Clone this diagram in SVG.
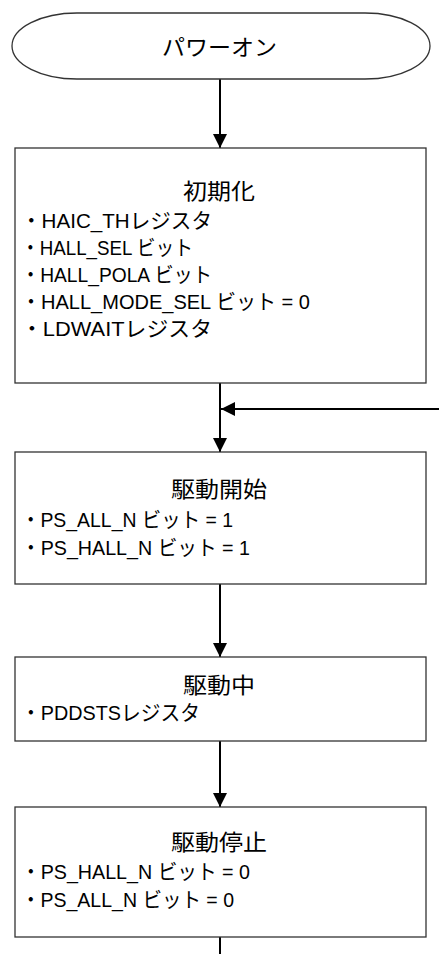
<svg xmlns="http://www.w3.org/2000/svg" width="439" height="954" viewBox="0 0 439 954">
<style>
.shape{fill:#ffffff;stroke:#333333;stroke-width:1.3}
.conn{fill:none;stroke:#000000;stroke-width:2}
text{font-family:'Liberation Sans','Noto Sans CJK JP',sans-serif;font-size:21px;fill:#000000}
.title{text-anchor:middle;font-size:22px}
</style>
<defs>
<marker id="arrow" viewBox="0 0 14 14" refX="14" refY="7" markerWidth="14" markerHeight="14" markerUnits="userSpaceOnUse" orient="auto">
<path d="M0,0 L14,7 L0,14 z" fill="#000000"/>
</marker>
</defs>
<rect width="439" height="954" fill="#ffffff"/>
<g id="connectors">
<path class="conn" d="M220 79 V148" marker-end="url(#arrow)"/>
<path class="conn" d="M220 383 V452" marker-end="url(#arrow)"/>
<path class="conn" d="M439 409 H221" marker-end="url(#arrow)"/>
<path class="conn" d="M220 584 V657" marker-end="url(#arrow)"/>
<path class="conn" d="M220 741 V807" marker-end="url(#arrow)"/>
<path class="conn" d="M220 937 V954"/>
</g>
<g id="power-on">
<rect class="shape" x="12" y="13" width="418" height="66" rx="65" ry="33"/>
<text class="title" x="219.5" y="55" textLength="115" lengthAdjust="spacingAndGlyphs">パワーオン</text>
</g>
<g id="init">
<rect class="shape" x="15" y="148" width="411" height="235"/>
<text class="title" x="219" y="199" textLength="72" lengthAdjust="spacingAndGlyphs">初期化</text>
<text x="21" y="228" textLength="191" lengthAdjust="spacingAndGlyphs">・HAIC_THレジスタ</text>
<text x="21" y="255" textLength="172" lengthAdjust="spacingAndGlyphs">・HALL_SEL ビット</text>
<text x="21" y="282" textLength="191" lengthAdjust="spacingAndGlyphs">・HALL_POLA ビット</text>
<text x="21" y="309" textLength="289" lengthAdjust="spacingAndGlyphs">・HALL_MODE_SEL ビット = 0</text>
<text x="21" y="336" textLength="191" lengthAdjust="spacingAndGlyphs">・LDWAITレジスタ</text>
</g>
<g id="drive-start">
<rect class="shape" x="15" y="452" width="411" height="132"/>
<text class="title" x="219" y="497" textLength="96" lengthAdjust="spacingAndGlyphs">駆動開始</text>
<text x="21" y="527" textLength="212" lengthAdjust="spacingAndGlyphs">・PS_ALL_N ビット = 1</text>
<text x="21" y="555" textLength="229" lengthAdjust="spacingAndGlyphs">・PS_HALL_N ビット = 1</text>
</g>
<g id="driving">
<rect class="shape" x="15" y="657" width="411" height="84"/>
<text class="title" x="219" y="693" textLength="72" lengthAdjust="spacingAndGlyphs">駆動中</text>
<text x="21" y="720" textLength="179" lengthAdjust="spacingAndGlyphs">・PDDSTSレジスタ</text>
</g>
<g id="drive-stop">
<rect class="shape" x="15" y="807" width="411" height="130"/>
<text class="title" x="219" y="850" textLength="96" lengthAdjust="spacingAndGlyphs">駆動停止</text>
<text x="21" y="879" textLength="229" lengthAdjust="spacingAndGlyphs">・PS_HALL_N ビット = 0</text>
<text x="21" y="907" textLength="213" lengthAdjust="spacingAndGlyphs">・PS_ALL_N ビット = 0</text>
</g>
</svg>
